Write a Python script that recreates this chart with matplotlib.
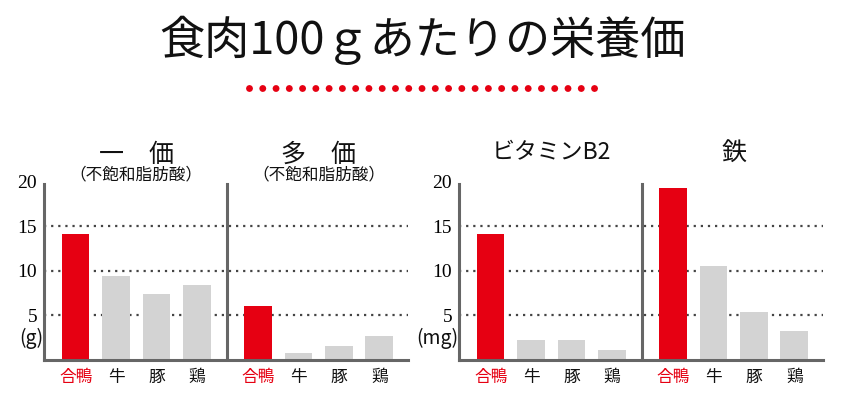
import matplotlib
matplotlib.use('Agg')
import matplotlib.pyplot as plt
from matplotlib.lines import Line2D
from matplotlib.transforms import blended_transform_factory
import numpy as np

# ---- data ----
categories = ['合鴨', '牛', '豚', '鶏']
mono_values = [14.1, 9.4, 7.4, 8.4]      # 一価不飽和脂肪酸 (g)
poly_values = [6.0, 0.7, 1.5, 2.6]       # 多価不飽和脂肪酸 (g)
b2_values = [14.1, 2.2, 2.2, 1.1]        # ビタミンB2
iron_values = [19.3, 10.5, 5.3, 3.2]     # 鉄
y_ticks = [5, 10, 15, 20]
y_tick_labels = ['5', '10', '15', '20']
panel_titles = ['一　価', '多　価', 'ビタミンB2', '鉄']
panel_subtitles = ['（不飽和脂肪酸）', '（不飽和脂肪酸）', '', '']
units = ['(g)', '(mg)']
title = '食肉100ｇあたりの栄養価'

RED = '#E60012'
GRAY = '#D3D3D3'
AXIS = '#666666'
GRID = '#444444'
JP = ['Noto Sans CJK JP', 'DejaVu Sans']
SERIF = ['Liberation Serif', 'DejaVu Serif']

W, H = 851, 393
fig = plt.figure(figsize=(W / 100, H / 100), dpi=100)


def px_axes(l, r, b, t):
    return fig.add_axes([l / W, 1 - b / H, (r - l) / W, (b - t) / H])


groups = [
    dict(left=44, right=408, data=[mono_values, poly_values],
         titles=panel_titles[0:2], subs=panel_subtitles[0:2], unit=units[0],
         title_y=[155, 155], title_size=[18, 18]),
    dict(left=459, right=823, data=[b2_values, iron_values],
         titles=panel_titles[2:4], subs=panel_subtitles[2:4], unit=units[1],
         title_y=[153, 153], title_size=[16.5, 18]),
]

offset = 4.5
bar_w = 0.68
divider = 3.74
for g in groups:
    ax = px_axes(g['left'], g['right'], 359.5, 181.5)
    ax.set_xlim(-0.78, 8.21)
    ax.set_ylim(0, 20)
    ax.patch.set_alpha(0)
    xs_all, labels_all = [], []
    for p, vals in enumerate(g['data']):
        xs = np.arange(len(categories)) + p * offset
        colors = [RED] + [GRAY] * (len(categories) - 1)
        ax.bar(xs, vals, width=bar_w, color=colors, zorder=2, linewidth=0)
        xs_all.extend(xs)
        labels_all.extend(categories)
    for y in y_ticks[:-1]:
        ax.axhline(y, color=GRID, lw=1.6, linestyle=(0, (1, 2.2)), zorder=1)
    ax.axvline(divider, ymin=0, ymax=19.7 / 20, color=AXIS, lw=2.2, zorder=3)
    for s in ['top', 'right']:
        ax.spines[s].set_visible(False)
    ax.spines['left'].set_bounds(0, 19.7)
    for s in ['left', 'bottom']:
        ax.spines[s].set_color(AXIS)
        ax.spines[s].set_linewidth(2.2)
        ax.spines[s].set_zorder(4)
    ax.set_yticks(y_ticks)
    ax.set_yticklabels(y_tick_labels, fontfamily=SERIF, fontsize=14)
    ax.tick_params(axis='y', length=0, pad=5)
    ax.set_xticks(xs_all)
    ax.set_xticklabels(labels_all, fontfamily=JP, fontsize=12)
    ax.tick_params(axis='x', length=0, pad=6.5)
    for i, lab in enumerate(ax.get_xticklabels()):
        lab.set_color(RED if i % len(categories) == 0 else '#111111')
    tr = blended_transform_factory(ax.transData, fig.transFigure)
    for p in range(2):
        cx = p * offset + (len(categories) - 1) / 2
        ax.text(cx, 1 - g['title_y'][p] / H, g['titles'][p], transform=tr,
                ha='center', va='center', fontsize=g['title_size'][p],
                fontfamily=JP, color='#111111', clip_on=False)
        if g['subs'][p]:
            ax.text(cx, 1 - 175 / H, g['subs'][p], transform=tr,
                    ha='center', va='center', fontsize=12,
                    fontfamily=JP, color='#111111', clip_on=False)
    fig.text((g['left'] - 1) / W, 1 - 338 / H, g['unit'], ha='right',
             va='center', fontsize=14, fontfamily=JP, color='#111111')

fig.text(423 / W, 1 - 40 / H, title, ha='center', va='center',
         fontsize=32.5, fontfamily=JP, color='#111111')

dots = Line2D([249 / W, 596 / W], [1 - 88 / H, 1 - 88 / H],
              transform=fig.transFigure, lw=5, color=RED,
              linestyle=(0, (0.001, 1.91)), dash_capstyle='round')
fig.add_artist(dots)

fig.savefig('out.png', dpi=100)
